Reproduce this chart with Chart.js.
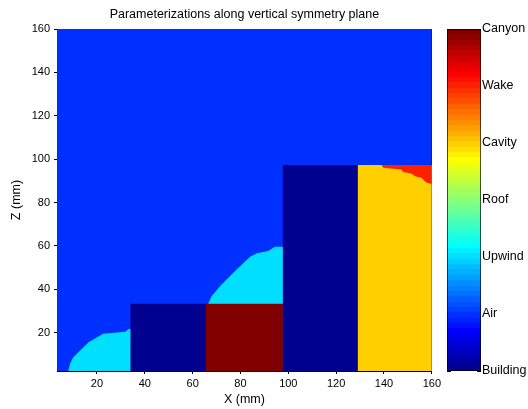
<!DOCTYPE html>
<html lang="en">
<head>
    <meta charset="UTF-8">
    <title>Parameterizations along vertical symmetry plane</title>
    <script src="https://cdn.jsdelivr.net/npm/chart.js"></script>
    <style>
        body { margin: 0; background: #fff; }
        #wrap { position: relative; width: 528px; height: 409px; }
        #plot { position: absolute; left: 0; top: 0; }
        #bar { position: absolute; left: 444px; top: 0; }
    </style>
</head>
<body>
    <div id="wrap">
        <canvas id="plot" width="444" height="409"></canvas>
        <canvas id="bar" width="84" height="409"></canvas>
    </div>

    <script>
        // categories, from the bottom of the colour bar to the top
        const categories = ['Building', 'Air', 'Upwind', 'Roof', 'Cavity', 'Wake', 'Canyon'];

        const xTicks = [20, 40, 60, 80, 100, 120, 140, 160];
        const zTicks = [20, 40, 60, 80, 100, 120, 140, 160];
        const xRange = [3.3, 160];
        const zRange = [2.3, 160];

        // region outlines, X and Z in mm
        const airX = [0, 160, 160, 0];
        const airZ = [0, 0, 160, 160];

        const building1X = [34, 65.5, 65.5, 34];
        const building1Z = [0, 0, 33.3, 33.3];

        const canyonX = [65.5, 97.7, 97.7, 65.5];
        const canyonZ = [0, 0, 33.3, 33.3];

        const building2X = [97.7, 129, 129, 97.7];
        const building2Z = [0, 0, 97.3, 97.3];

        const cavityX = [129, 160, 160, 129];
        const cavityZ = [0, 0, 97.3, 97.3];

        const upwind1X = [7.5, 8.7, 10.0, 16.5, 19.5, 22.6, 31.8, 33.2, 34, 34];
        const upwind1Z = [0, 5.5, 8.5, 15.5, 17.5, 19.5, 20.4, 21.7, 21.7, 0];

        const upwind2X = [66.5, 67.9, 72.1, 77.0, 84.0, 86.8, 91.6, 94.4, 97.7, 97.7];
        const upwind2Z = [33.3, 36.8, 42.2, 47.6, 55.0, 56.6, 57.6, 59.6, 59.6, 33.3];

        const wakeX = [139.0, 139.7, 147.3, 148.0, 151.5, 152.9, 155.7, 157.1, 158.0, 160, 160];
        const wakeZ = [97.3, 96.0, 95.2, 94.1, 93.4, 92.1, 91.4, 89.8, 89.1, 88.5, 97.3];

        // first entry is drawn on top
        const regions = [
            ['Upwind', upwind1X, upwind1Z],
            ['Upwind', upwind2X, upwind2Z],
            ['Wake', wakeX, wakeZ],
            ['Building', building1X, building1Z],
            ['Canyon', canyonX, canyonZ],
            ['Building', building2X, building2Z],
            ['Cavity', cavityX, cavityZ],
            ['Air', airX, airZ]
        ];

        // matlab jet(64)
        function jet64(k) {
            const u = j => j < 1 || j > 47 ? 0 : (j <= 16 ? j / 16 : (j <= 31 ? 1 : (48 - j) / 16));
            const c = v => Math.round(v * 255);
            return `rgb(${c(u(k - 24))},${c(u(k - 8))},${c(u(k + 8))})`;
        }
        function catColor(name) {
            const v = categories.indexOf(name);
            const k = Math.min(64, Math.floor(v / (categories.length - 1) * 64) + 1);
            return jet64(k);
        }

        Chart.defaults.font.family = "'Liberation Sans', Arial, sans-serif";
        Chart.defaults.color = '#000';

        const tickFont = { size: 11 };
        const textFont = { size: 12.5 };

        const plotCtx = document.getElementById('plot').getContext('2d');
        new Chart(plotCtx, {
            type: 'line',
            data: {
                datasets: regions.map(([name, xs, zs]) => ({
                    label: name,
                    data: xs.map((x, i) => ({ x: x, y: zs[i] })),
                    fill: 'shape',
                    backgroundColor: catColor(name),
                    borderColor: 'rgba(0,0,0,0)',
                    borderWidth: 0,
                    pointRadius: 0,
                    pointHoverRadius: 0,
                    tension: 0
                }))
            },
            options: {
                responsive: false,
                animation: false,
                events: [],
                layout: { padding: { left: 0, right: 12, top: 0, bottom: 0 } },
                plugins: { legend: { display: false }, tooltip: { enabled: false } },
                scales: {
                    x: {
                        type: 'linear', position: 'bottom',
                        min: xRange[0], max: xRange[1],
                        afterBuildTicks: s => { s.ticks = xTicks.map(v => ({ value: v })); },
                        afterFit: s => { s.height = 38; },
                        ticks: { font: tickFont, padding: 3, maxRotation: 0, autoSkip: false },
                        grid: { drawOnChartArea: false, tickLength: 3, color: '#000' },
                        border: { color: '#000' },
                        title: { display: true, text: 'X (mm)', font: textFont, padding: { top: 0, bottom: 1.5 } }
                    },
                    y: {
                        type: 'linear', position: 'left',
                        min: zRange[0], max: zRange[1],
                        afterBuildTicks: s => { s.ticks = zTicks.map(v => ({ value: v })); },
                        afterFit: s => { s.width = 57; },
                        ticks: { font: tickFont, padding: 4 },
                        grid: { drawOnChartArea: false, tickLength: 3, color: '#000' },
                        border: { color: '#000' },
                        title: { display: true, text: 'Z (mm)', font: textFont, padding: { top: 9, bottom: 0 } }
                    },
                    x2: {
                        type: 'linear', position: 'top',
                        min: xRange[0], max: xRange[1],
                        afterFit: s => { s.height = 29; },
                        ticks: { display: false },
                        grid: { display: false },
                        border: { color: '#000' },
                        title: {
                            display: true,
                            text: 'Parameterizations along vertical symmetry plane',
                            font: textFont, padding: { top: 7, bottom: 0 }
                        }
                    },
                    y2: {
                        type: 'linear', position: 'right',
                        min: zRange[0], max: zRange[1],
                        afterFit: s => { s.width = 0; },
                        ticks: { display: false },
                        grid: { display: false },
                        border: { color: '#000' }
                    }
                }
            }
        });

        // colour bar
        function jetGradient(chart) {
            const area = chart.chartArea;
            if (!area) return null;
            const g = chart.ctx.createLinearGradient(0, area.bottom, 0, area.top);
            for (let k = 1; k <= 64; k++) {
                g.addColorStop((k - 1) / 64, jet64(k));
                g.addColorStop(k / 64, jet64(k));
            }
            return g;
        }

        const barCtx = document.getElementById('bar').getContext('2d');
        new Chart(barCtx, {
            type: 'bar',
            data: {
                labels: [''],
                datasets: [{
                    data: [[1, categories.length]],
                    backgroundColor: c => jetGradient(c.chart),
                    borderColor: '#000',
                    borderWidth: 1,
                    borderSkipped: false,
                    barPercentage: 1,
                    categoryPercentage: 1
                }]
            },
            options: {
                responsive: false,
                animation: false,
                events: [],
                layout: { padding: { left: 3, right: 0, top: 29, bottom: 38 } },
                plugins: { legend: { display: false }, tooltip: { enabled: false } },
                scales: {
                    x: { display: false },
                    y: {
                        position: 'right', z: 1,
                        min: 1, max: categories.length,
                        afterBuildTicks: s => { s.ticks = categories.map((c, i) => ({ value: i + 1 })); },
                        afterFit: s => { s.width = 47; },
                        ticks: { font: textFont, padding: 5, callback: v => categories[v - 1] },
                        grid: { drawOnChartArea: false, tickLength: -4, color: '#000' },
                        border: { display: false }
                    },
                    yl: {
                        position: 'left', z: 1,
                        min: 1, max: categories.length,
                        afterBuildTicks: s => { s.ticks = categories.map((c, i) => ({ value: i + 1 })); },
                        afterFit: s => { s.width = 0; },
                        ticks: { display: false },
                        grid: { drawOnChartArea: false, tickLength: -4, color: '#000' },
                        border: { display: false }
                    }
                }
            }
        });
    </script>
</body>
</html>
